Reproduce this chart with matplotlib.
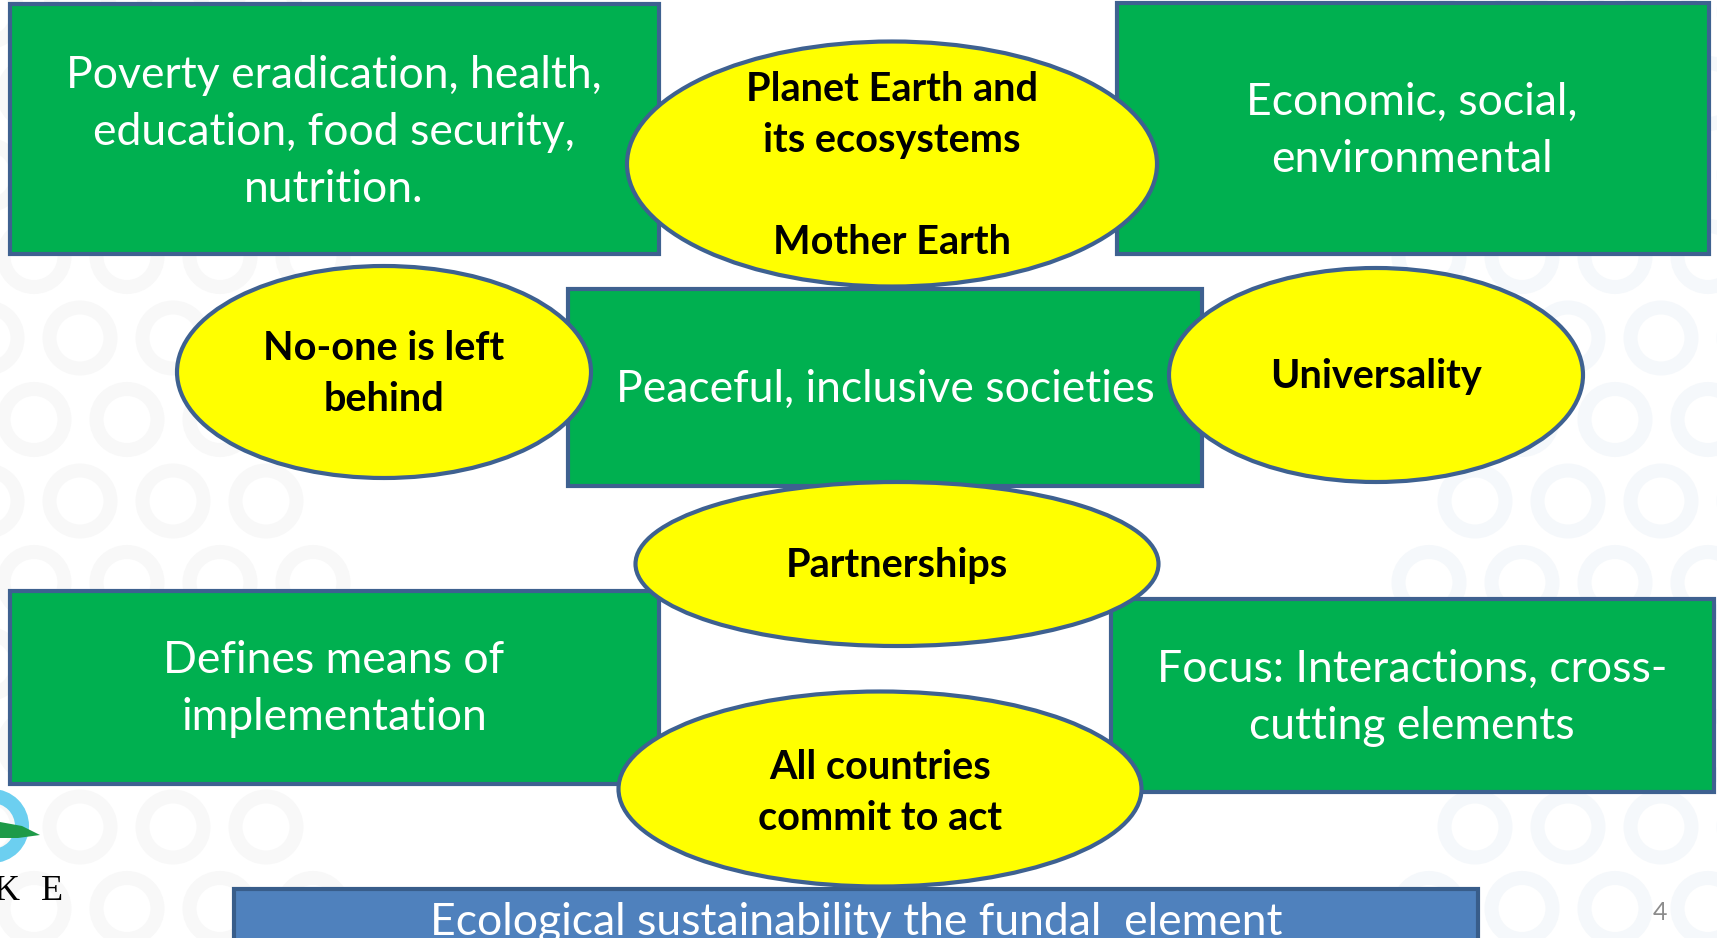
import matplotlib.pyplot as plt
from matplotlib.patches import Rectangle, Ellipse, Circle, Polygon

W, H = 1717, 938

# green boxes: text lines
box_lines = [
    ["Poverty eradication, health,", "education, food security,", "nutrition."],
    ["Economic, social,", "environmental"],
    ["Peaceful, inclusive societies"],
    ["Defines means of", "implementation"],
    ["Focus: Interactions, cross-", "cutting elements"],
]
# yellow ellipses: text lines
ellipse_lines = [
    ["Planet Earth and", "its ecosystems", "", "Mother Earth"],
    ["No-one is left", "behind"],
    ["Universality"],
    ["Partnerships"],
    ["All countries", "commit to act"],
]
bar_label = "Ecological sustainability the fundal  element"
page_label = "4"

# layout (pixels, y downwards)
box_rect = [(10, 4, 649, 250), (1117, 3, 592, 251), (568, 289, 634, 197),
            (10, 591, 649, 193), (1111, 599, 603, 193)]
box_text_x = [334, 1412, 885, 334, 1412]
box_base_y = [88, 115, 402, 673, 682]
ell_geom = [(892, 164, 530, 245), (384, 372, 414, 212), (1376, 375, 414, 214),
            (897, 564, 523, 164), (880, 789, 523, 195)]
ell_base_y = [101, 360, 388, 577, 779]

GREEN = "#00B050"
YELLOW = "#FFFF00"
EDGE = "#3E6190"

fig = plt.figure(figsize=(W / 100, H / 100), dpi=100)
ax = fig.add_axes([0, 0, 1, 1])
ax.set_xlim(0, W)
ax.set_ylim(H, 0)
ax.axis("off")

# faint ring background on both sides
for k in range(-1, 13):
    yc = 12 + 81.5 * k
    x0 = 80 if k % 2 == 0 else 34
    for j in range(-1, 20):
        xc = x0 + 93 * j
        if xc < 320:
            col = "#f8f8f8"
        elif xc > 1420:
            col = "#f5f8fb"
        else:
            continue
        ax.add_patch(Circle((xc, yc), 30.5, fill=False, lw=14 * 0.72,
                            ec=col, zorder=0))

# logo fragment bottom-left
ax.add_patch(Circle((-8, 826), 30, fill=False, lw=14 * 0.72, ec="#6ccff0", zorder=1))
ax.add_patch(Polygon([(0, 822), (22, 826), (40, 835), (18, 838), (0, 838)],
                     closed=True, fc="#1e9a48", ec="none", zorder=2))
ax.text(20, 900, "K", ha="right", va="baseline", fontsize=26,
        family="Liberation Serif", color="black")
ax.text(41, 900, "E", ha="left", va="baseline", fontsize=26,
        family="Liberation Serif", color="black")

LINE = 57
for (x, y, w, h), lines, tx, by in zip(box_rect, box_lines, box_text_x, box_base_y):
    ax.add_patch(Rectangle((x, y), w, h, fc=GREEN, ec=EDGE, lw=3, zorder=2))
    for i, s in enumerate(lines):
        ax.text(tx, by + i * LINE, s, ha="center", va="baseline", fontsize=32,
                family="Lato", color="white", zorder=5)

ELINE = 51
for (cx, cy, w, h), lines, by in zip(ell_geom, ellipse_lines, ell_base_y):
    ax.add_patch(Ellipse((cx, cy), w, h, fc=YELLOW, ec=EDGE, lw=3, zorder=3))
    for i, s in enumerate(lines):
        ax.text(cx, by + i * ELINE, s, ha="center", va="baseline", fontsize=28.5,
                family="Lato", weight="bold", color="black", zorder=5)

# bottom bar
ax.add_patch(Rectangle((234, 889), 1244, 60, fc="#4F81BD", ec="#385D8A", lw=3,
                       zorder=2, clip_on=False))
ax.text(856, 935, bar_label, ha="center", va="baseline", fontsize=32,
        family="Lato", color="white", zorder=5)

ax.text(1660, 920, page_label, ha="center", va="baseline", fontsize=18,
        family="Lato", color="#8c8c8c")

fig.savefig("out.png", dpi=100)
